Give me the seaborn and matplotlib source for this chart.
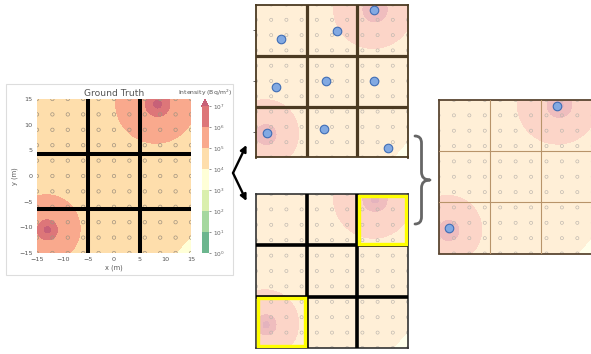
import numpy as np
import matplotlib
matplotlib.use("Agg")
import matplotlib.pyplot as plt
import seaborn as sns
import pandas as pd
from matplotlib.colors import LogNorm, ListedColormap, to_rgb
from matplotlib.patches import Rectangle, FancyArrowPatch, PathPatch
from matplotlib.path import Path

sns.set_theme(style="white")
plt.rcParams["font.family"] = ["DejaVu Sans"]

# ---------------------------------------------------------------- data
# point sources (position in m, strength)
src_x = [8.5, -13.0]
src_y = [14.0, -10.5]
src_strength = [6.3e6, 4.1e6]
atten_mu = 0.05          # air attenuation (1/m)
src_height = 0.2         # detector height above ground (m)
# slowly varying background
bg_level = 6.1e3
bg_slope = 1.1e3
bg_dir = (0.78, -0.625)
bg_offset = 19.2

# colour levels (Bq/m^2)
level_exp = [0, 1, 2, 3, 4, 5, 6, 7]

# measurement lattice (m)
lattice = [-15, -12, -9, -6, -3, 0, 3, 6, 9, 12, 15]

# partition boundaries
gt_cuts_x = [-5.0, 5.0]
gt_cuts_y = [4.2, -6.5]
part_cuts_x = [-5.0, 5.0]
part_cuts_y = [5.0, -5.0]

# sampled sensor locations (one per cell)
meas_x = [-10.1, 1.0, 8.2, -11.1, -1.2, 8.2, -12.8, -1.6, 11.1]
meas_y = [8.2, 9.9, 14.0, -1.2, 0.0, 0.0, -10.1, -9.5, -13.1]

# cells flagged as containing a source (lower-left corner)
hot_x = [5.0, -15.0]
hot_y = [5.0, -15.0]
cell_size = 10.0

# located sources
found_x = [8.0, -12.9]
found_y = [13.9, -10.0]

# ---------------------------------------------------------------- field
g = np.linspace(-15, 15, 401)
X, Y = np.meshgrid(g, g)
field = bg_level + bg_slope * (bg_offset - (bg_dir[0] * X + bg_dir[1] * Y))
for sx, sy, a in zip(src_x, src_y, src_strength):
    r2 = (X - sx) ** 2 + (Y - sy) ** 2
    field = field + a * np.exp(-atten_mu * np.sqrt(r2)) / (r2 + src_height ** 2)

levels = [10.0 ** k for k in level_exp]
norm = LogNorm(vmin=levels[0], vmax=levels[-1])
base = plt.get_cmap("RdYlGn_r")
n_bands = len(levels) - 1


def faded_cmap(alpha):
    """Opaque version of the banded colormap seen through `alpha` on white."""
    def fade(c):
        r = np.array(to_rgb(c))
        return tuple(alpha * r + (1 - alpha))
    cols = [fade(base((k + 0.5) / n_bands)) for k in range(n_bands)]
    cm = ListedColormap(cols)
    cm.set_over(fade(base(1.0)))
    return cm


lat = pd.DataFrame([(x, y) for x in lattice for y in lattice], columns=["x", "y"])
meas = pd.DataFrame({"x": meas_x, "y": meas_y})
found = pd.DataFrame({"x": found_x, "y": found_y})

W, H = 591, 354
fig = plt.figure(figsize=(W / 100, H / 100), dpi=100)


def px_axes(x0, y0, x1, y1):
    return fig.add_axes([x0 / W, 1 - y1 / H, (x1 - x0) / W, (y1 - y0) / H])


def draw_field(ax, alpha):
    cf = ax.contourf(X, Y, field, levels=levels, norm=norm,
                     cmap=faded_cmap(alpha), extend="max", zorder=0,
                     antialiased=False)
    ax.set_xlim(-15, 15)
    ax.set_ylim(-15, 15)
    return cf


def draw_lattice(ax, size, color, lw):
    sns.scatterplot(data=lat, x="x", y="y", ax=ax, marker="o", s=size,
                    facecolor="none", edgecolor=color, linewidth=lw,
                    legend=False, zorder=2)


def draw_sensors(ax, df):
    sns.scatterplot(data=df, x="x", y="y", ax=ax, marker="o", s=38,
                    color="#82a9e2", edgecolor="#3f6db5", linewidth=0.8,
                    legend=False, zorder=6, clip_on=False)


def bare(ax, spine_color, spine_lw):
    ax.set_xlabel("")
    ax.set_ylabel("")
    ax.set_xticks([])
    ax.set_yticks([])
    for s in ax.spines.values():
        s.set_visible(True)
        s.set_color(spine_color)
        s.set_linewidth(spine_lw)


# ---------------------------------------------------------------- ground truth
ax0 = px_axes(37, 99, 191, 253)
cf = draw_field(ax0, 0.62)
draw_lattice(ax0, 6, "#a39480", 0.5)
for xv in gt_cuts_x:
    ax0.axvline(xv, color="black", lw=2.9, zorder=4)
for yv in gt_cuts_y:
    ax0.axhline(yv, color="black", lw=2.9, zorder=4)
ticks = [-15, -10, -5, 0, 5, 10, 15]
ax0.set_xticks(ticks)
ax0.set_yticks(ticks)
ax0.tick_params(labelsize=4.6, colors="#555555", length=1.5, width=0.5, pad=1.5)
ax0.set_xlabel("x (m)", fontsize=4.8, color="#555555", labelpad=1.5)
ax0.set_ylabel("y (m)", fontsize=4.8, color="#555555", labelpad=1)
ax0.set_title("Ground Truth", fontsize=6.6, color="#555555", pad=2.5)
for s in ax0.spines.values():
    s.set_visible(False)

cax = px_axes(201.5, 99, 208.5, 253)
cb = fig.colorbar(cf, cax=cax, ticks=levels)
cb.outline.set_visible(False)
cax.minorticks_off()
cax.set_yticklabels([f"$10^{{{k}}}$" for k in level_exp])
cax.tick_params(labelsize=4.2, colors="#666666", length=1.5, width=0.5, pad=1.5)
cax.set_title("Intensity (Bq/m$^2$)", fontsize=4.4, color="#555555", pad=3)

# ---------------------------------------------------------------- sampled partition
ax1 = px_axes(256, 4.5, 408, 157.5)
draw_field(ax1, 0.3)
draw_lattice(ax1, 5, "#bdb6ae", 0.45)
for xv in part_cuts_x:
    ax1.axvline(xv, color="#4b3a22", lw=2.3, zorder=4)
for yv in part_cuts_y:
    ax1.axhline(yv, color="#4b3a22", lw=2.3, zorder=4)
draw_sensors(ax1, meas)
bare(ax1, "#4b3a22", 1.3)
ax1.set_yticks([-10, 0, 10])
ax1.set_yticklabels([])
ax1.tick_params(axis="y", left=True, length=2, width=0.6, color="#555555")

# ---------------------------------------------------------------- flagged cells
ax2 = px_axes(256, 194, 408, 348)
draw_field(ax2, 0.3)
draw_lattice(ax2, 5, "#bdb6ae", 0.45)
for xv in part_cuts_x:
    ax2.axvline(xv, color="black", lw=2.6, zorder=4)
for yv in part_cuts_y:
    ax2.axhline(yv, color="black", lw=2.6, zorder=4)
inset = 0.35
for hx, hy in zip(hot_x, hot_y):
    ax2.add_patch(Rectangle((hx + inset, hy + inset), cell_size - 2 * inset,
                            cell_size - 2 * inset, fill=False,
                            edgecolor="#ffff00", lw=2.4, zorder=5))
bare(ax2, "#333333", 1.2)

# ---------------------------------------------------------------- refined search
ax3 = px_axes(438.5, 100, 593, 253.5)
draw_field(ax3, 0.3)
draw_lattice(ax3, 5, "#bdb6ae", 0.45)
for xv in part_cuts_x:
    ax3.axvline(xv, color="#b8946a", lw=0.8, zorder=4)
for yv in part_cuts_y:
    ax3.axhline(yv, color="#b8946a", lw=0.8, zorder=4)
draw_sensors(ax3, found)
bare(ax3, "#5b4631", 1.3)
ax3.set_xlim(-15, 15 * (593 - 438.5) / 153 - 0.1)

# ---------------------------------------------------------------- connectors
ov = fig.add_axes([0, 0, 1, 1], zorder=10)
ov.set_xlim(0, W)
ov.set_ylim(H, 0)
ov.axis("off")

ov.add_patch(Rectangle((6, 84), 227, 191, fill=False, edgecolor="#dddddd", lw=0.8))

for end in [(246.5, 145), (246.5, 201)]:
    ov.add_patch(FancyArrowPatch((233, 173), end, arrowstyle="-|>",
                                 mutation_scale=9, lw=1.7, color="black",
                                 shrinkA=0, shrinkB=0))

brace = Path(
    [(415, 136), (421.5, 136), (421.5, 143), (421.5, 172),
     (421.5, 180), (430, 180), (421.5, 180), (421.5, 188),
     (421.5, 217), (421.5, 224), (415, 224)],
    [Path.MOVETO, Path.CURVE3, Path.CURVE3, Path.LINETO,
     Path.CURVE3, Path.CURVE3, Path.CURVE3, Path.CURVE3,
     Path.LINETO, Path.CURVE3, Path.CURVE3])
ov.add_patch(PathPatch(brace, fill=False, edgecolor="#666666", lw=2.0,
                       capstyle="round", joinstyle="round"))

fig.savefig("out.png", dpi=100)
